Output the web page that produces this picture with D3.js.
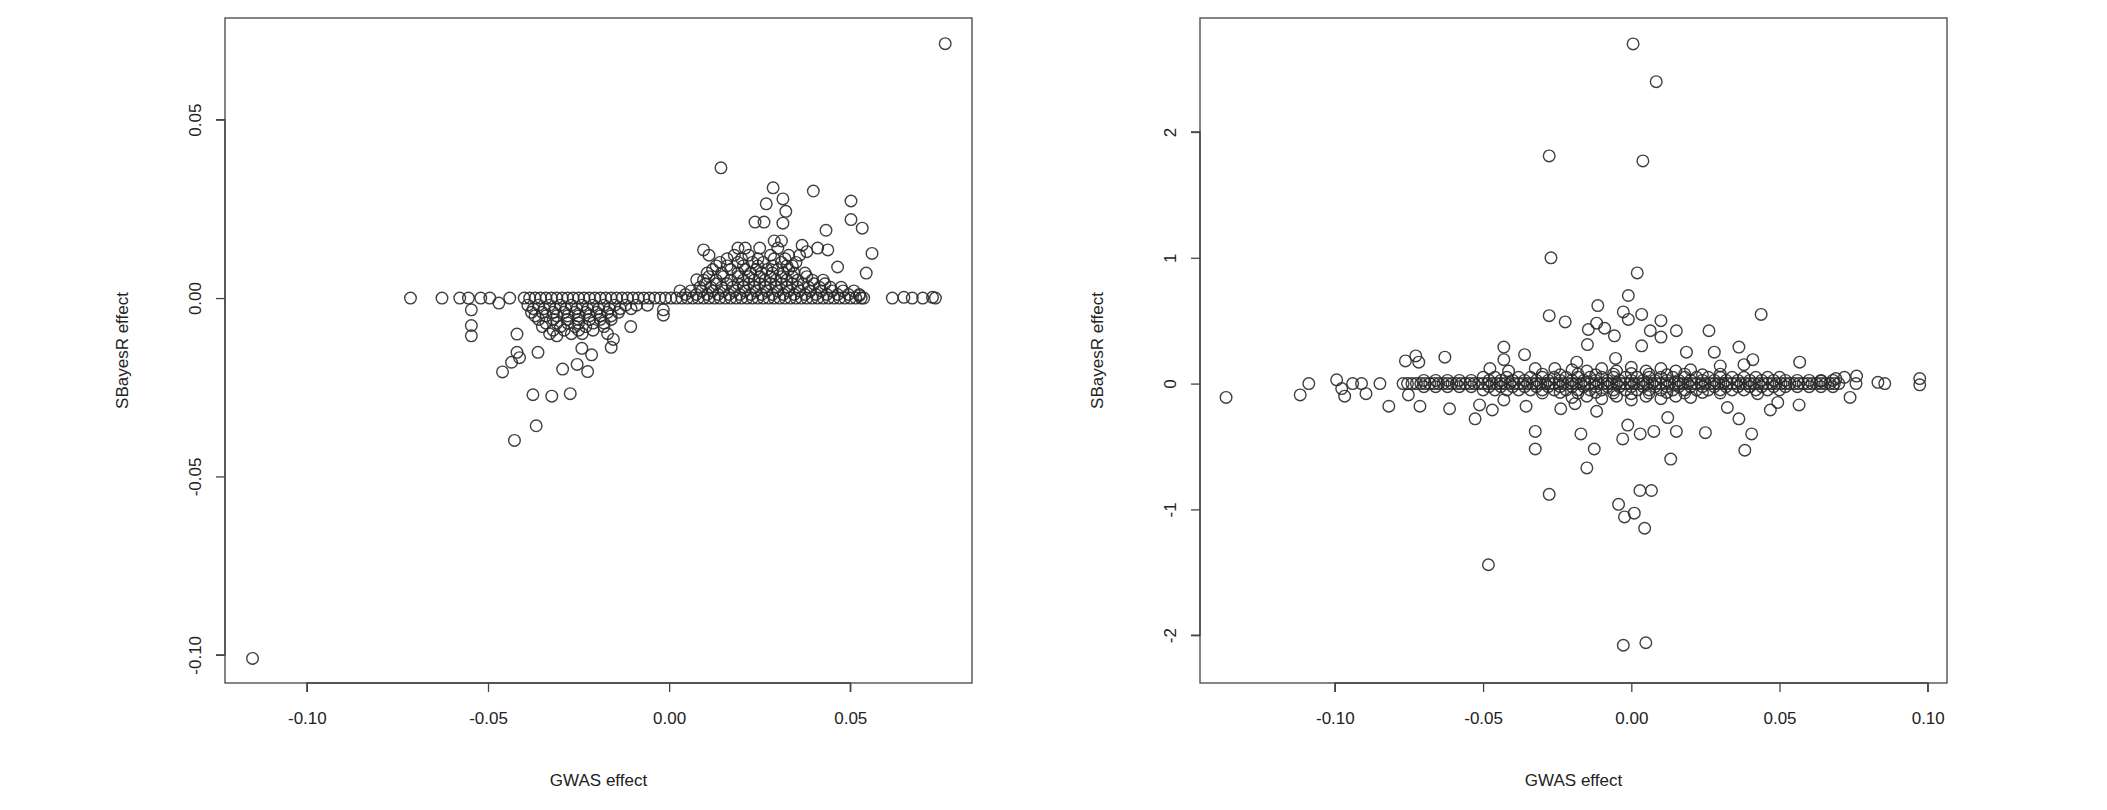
<!DOCTYPE html>
<html><head><meta charset="utf-8">
<script src="https://cdn.jsdelivr.net/npm/d3@7"></script>
<style>body{margin:0;background:#fff}svg{display:block}text{font-family:"Liberation Sans",Arial,sans-serif;fill:#222}</style>
</head><body><svg id="c" width="2107" height="810"></svg>
<script>
// ---------- Left panel data ----------
const leftGwas = [
-0.040,-0.037,-0.034,-0.031,-0.028,-0.025,-0.022,-0.019,-0.016,-0.013,-0.010,-0.007,-0.004,-0.001,0.002,0.005,0.008,0.011,0.014,0.017,0.020,0.023,0.026,0.029,0.032,0.035,0.038,0.041,0.044,0.047,0.050,0.053,
-0.039,-0.036,-0.033,-0.030,-0.027,-0.024,-0.021,-0.018,-0.015,-0.012,-0.009,-0.006,
-0.038,-0.035,-0.032,-0.029,-0.026,-0.023,-0.020,-0.017,-0.014,
-0.036,-0.032,-0.028,-0.025,-0.022,-0.019,-0.016,
-0.035,-0.030,-0.026,-0.023,-0.018,
-0.033,-0.027,-0.024,-0.017,
0.003,0.006,0.009,0.012,0.015,0.018,0.021,0.024,0.027,0.030,0.033,0.036,0.039,0.042,0.045,0.048,0.051,
0.010,0.013,0.016,0.019,0.022,0.025,0.028,0.031,0.034,0.037,0.040,0.043,
0.011,0.015,0.019,0.022,0.025,0.028,0.031,0.034,0.038,
0.012,0.017,0.021,0.024,0.027,0.030,0.033,
0.014,0.019,0.023,0.026,0.031,0.035,
0.011,0.018,0.022,0.028,0.033,0.036,
0.019,0.021,0.025,0.030,0.041,
-0.0714,-0.0627,-0.0578,-0.0554,-0.0546,-0.0546,-0.0546,-0.052,-0.0495,-0.047,-0.044,
-0.046,-0.0435,-0.042,-0.0413,-0.0376,-0.0324,-0.0273,-0.0367,-0.0427,-0.0362,-0.0294,-0.0254,-0.0225,-0.0241,-0.0214,-0.042,-0.031,-0.016,-0.0154,-0.0106,-0.0016,-0.0016,
0.0143,0.0287,0.0268,0.0314,0.0322,0.0398,0.0502,0.0502,0.0533,0.0237,0.0262,0.0314,0.0433,0.056,0.0544,0.029,0.031,0.0367,0.038,0.0438,0.0465,0.0095,0.0076,
0.0616,0.0648,0.0671,0.070,0.0727,0.0735,0.0525,0.0537,0.0762,-0.1150
];
const leftSbayes = [
0,0,0,0,0,0,0,0,0,0,0,0,0,0,0,0,0,0,0,0,0,0,0,0,0,0,0,0,0,0,0,0,
-0.002,-0.002,-0.002,-0.002,-0.002,-0.002,-0.002,-0.002,-0.002,-0.002,-0.002,-0.002,
-0.004,-0.004,-0.004,-0.004,-0.004,-0.004,-0.004,-0.004,-0.004,
-0.006,-0.006,-0.006,-0.006,-0.006,-0.006,-0.006,
-0.008,-0.008,-0.008,-0.008,-0.008,
-0.010,-0.010,-0.010,-0.010,
0.002,0.002,0.002,0.002,0.002,0.002,0.002,0.002,0.002,0.002,0.002,0.002,0.002,0.002,0.002,0.002,0.002,
0.004,0.004,0.004,0.004,0.004,0.004,0.004,0.004,0.004,0.004,0.004,0.004,
0.006,0.006,0.006,0.006,0.006,0.006,0.006,0.006,0.006,
0.008,0.008,0.008,0.008,0.008,0.008,0.008,
0.010,0.010,0.010,0.010,0.010,0.010,
0.012,0.012,0.012,0.012,0.012,0.012,
0.014,0.014,0.014,0.014,0.014,
0,0,0,0,-0.0033,-0.0077,-0.0106,0,0,-0.0014,0,
-0.0207,-0.018,-0.0152,-0.0167,-0.0271,-0.0275,-0.0268,-0.0358,-0.0399,-0.0152,-0.0199,-0.0186,-0.0206,-0.0141,-0.0159,-0.0101,-0.0106,-0.0138,-0.0116,-0.008,-0.0048,-0.0033,
0.0365,0.0309,0.0264,0.0278,0.0243,0.030,0.0272,0.022,0.0196,0.0213,0.0213,0.021,0.019,0.0125,0.007,0.016,0.016,0.0148,0.013,0.0135,0.0087,0.0135,0.0051,
0,0.0002,0,0,0.0002,0,0.0007,0,0.0713,-0.1010
];
const leftBandGwas = [
-0.0385,-0.0355,-0.0325,-0.0295,-0.0265,-0.0235,-0.0205,-0.0175,-0.0145,-0.0115,-0.0085,-0.0055,-0.0025,0.0005,0.0035,0.0065,0.0095,0.0125,0.0155,0.0185,0.0215,0.0245,0.0275,0.0305,0.0335,0.0365,0.0395,0.0425,0.0455,0.0485,0.0515,
-0.0375,-0.0345,-0.0315,-0.0285,-0.0255,-0.0225,-0.0195,-0.0165,-0.0135,-0.0105,
-0.037,-0.034,-0.031,-0.028,-0.025,-0.022,-0.019,-0.016,
-0.034,-0.031,-0.028,-0.025,-0.021,-0.018,
-0.032,-0.029,-0.025,-0.021,
0.0045,0.0075,0.0105,0.0135,0.0165,0.0195,0.0225,0.0255,0.0285,0.0315,0.0345,0.0375,0.0405,0.0435,0.0465,0.0495,0.0525,
0.0085,0.0115,0.0145,0.0175,0.0205,0.0235,0.0265,0.0295,0.0325,0.0355,0.0385,0.0415,0.0445,0.0475,
0.0095,0.013,0.017,0.0205,0.0235,0.0265,0.0295,0.0325,0.0355,0.0395,0.0425,
0.0105,0.0145,0.019,0.0225,0.0255,0.0285,0.0315,0.0345,0.0375,
0.013,0.016,0.0205,0.0245,0.0285,0.0325,0.034,
0.016,0.020,0.0245,0.029,0.032
];
const leftBandSbayes = [
0,0,0,0,0,0,0,0,0,0,0,0,0,0,0,0,0,0,0,0,0,0,0,0,0,0,0,0,0,0,0,
-0.003,-0.003,-0.003,-0.003,-0.003,-0.003,-0.003,-0.003,-0.003,-0.003,
-0.005,-0.005,-0.005,-0.005,-0.005,-0.005,-0.005,-0.005,
-0.007,-0.007,-0.007,-0.007,-0.007,-0.007,
-0.009,-0.009,-0.009,-0.009,
0.001,0.001,0.001,0.001,0.001,0.001,0.001,0.001,0.001,0.001,0.001,0.001,0.001,0.001,0.001,0.001,0.001,
0.003,0.003,0.003,0.003,0.003,0.003,0.003,0.003,0.003,0.003,0.003,0.003,0.003,0.003,
0.005,0.005,0.005,0.005,0.005,0.005,0.005,0.005,0.005,0.005,0.005,
0.007,0.007,0.007,0.007,0.007,0.007,0.007,0.007,0.007,
0.009,0.009,0.009,0.009,0.009,0.009,0.009,
0.011,0.011,0.011,0.011,0.011
];
const leftXTicks = [-0.10,-0.05,0.00,0.05];
const leftYTicks = [-0.10,-0.05,0.00,0.05];

// ---------- Right panel data ----------
const rightGwas = [
-0.077,-0.074,-0.071,-0.068,-0.065,-0.062,-0.059,-0.056,-0.053,-0.050,-0.047,-0.044,-0.041,-0.038,-0.035,-0.032,-0.029,-0.026,-0.023,-0.020,-0.017,-0.014,-0.011,-0.008,-0.005,-0.002,0.001,0.004,0.007,0.010,0.013,0.016,0.019,0.022,0.025,0.028,0.031,0.034,0.037,0.040,0.043,0.046,0.049,0.052,0.055,0.058,0.061,0.064,0.067,0.070,
-0.050,-0.046,-0.042,-0.038,-0.034,-0.030,-0.026,-0.022,-0.018,-0.014,-0.010,-0.006,-0.002,0.002,0.006,0.010,0.014,0.018,0.022,0.026,0.030,0.034,0.038,0.042,0.046,0.050,
-0.050,-0.046,-0.042,-0.038,-0.034,-0.030,-0.026,-0.022,-0.018,-0.014,-0.010,-0.006,-0.002,0.002,0.006,0.010,0.014,0.018,0.022,0.026,0.030,0.034,0.038,0.042,0.046,0.050,
-0.020,-0.015,-0.010,-0.005,0.000,0.005,0.010,0.015,0.020,
-0.020,-0.015,-0.010,-0.005,0.000,0.005,0.010,0.015,0.020,
-0.1367,-0.1117,-0.1088,-0.0994,-0.0977,-0.0967,-0.094,-0.091,-0.0895,-0.0848,-0.0818,-0.0762,-0.0752,-0.0727,-0.0717,-0.0713,-0.0629,-0.0613,-0.0527,-0.0512,-0.0482,-0.0477,-0.0469,-0.043,-0.043,-0.043,-0.0414,-0.036,-0.0355,-0.0324,-0.0324,-0.0324,
-0.0277,-0.0271,-0.0277,-0.0277,-0.0223,-0.0238,-0.0258,-0.0184,-0.019,-0.017,-0.015,-0.0148,-0.0145,-0.0125,-0.0113,-0.0117,-0.0117,-0.009,-0.0057,-0.0053,-0.0029,-0.0043,-0.0023,-0.0027,-0.0012,-0.0027,-0.001,-0.001,
0.0006,0.002,0.001,0.0029,0.0039,0.003,0.0045,0.0049,0.0035,0.0064,0.0068,0.0076,0.0084,0.010,0.010,0.0035,0.0133,0.0152,0.0152,0.0123,0.0186,0.025,0.0262,0.028,0.030,0.0324,0.0363,0.0363,0.038,0.0383,0.0406,0.041,0.0426,0.0438,0.0469,0.0494,0.0568,0.0566,
0.0738,0.0758,0.076,0.0719,0.0832,0.0855,0.0973,0.0973,0.064,0.069
];
const rightSbayes = [
0,0,0,0,0,0,0,0,0,0,0,0,0,0,0,0,0,0,0,0,0,0,0,0,0,0,0,0,0,0,0,0,0,0,0,0,0,0,0,0,0,0,0,0,0,0,0,0,0,0,
0.05,0.05,0.05,0.05,0.05,0.05,0.05,0.05,0.05,0.05,0.05,0.05,0.05,0.05,0.05,0.05,0.05,0.05,0.05,0.05,0.05,0.05,0.05,0.05,0.05,0.05,
-0.05,-0.05,-0.05,-0.05,-0.05,-0.05,-0.05,-0.05,-0.05,-0.05,-0.05,-0.05,-0.05,-0.05,-0.05,-0.05,-0.05,-0.05,-0.05,-0.05,-0.05,-0.05,-0.05,-0.05,-0.05,-0.05,
0.11,0.10,0.12,0.10,0.13,0.10,0.12,0.10,0.11,
-0.11,-0.10,-0.12,-0.10,-0.13,-0.10,-0.12,-0.10,-0.11,
-0.11,-0.09,0,0.03,-0.04,-0.10,0,0,-0.08,0,-0.18,0.18,-0.09,0.22,0.17,-0.18,0.21,-0.20,-0.28,-0.17,-1.44,0.12,-0.21,0.29,0.19,-0.13,0.10,0.23,-0.18,-0.38,-0.52,0.12,
1.81,1.00,0.54,-0.88,0.49,-0.20,0.12,0.17,-0.16,-0.40,-0.67,0.31,0.43,-0.52,0.62,0.48,-0.22,0.44,0.38,0.20,-0.44,-0.96,-1.06,-2.08,-0.33,0.57,0.70,0.51,
2.70,0.88,-1.03,-0.85,1.77,-0.40,-1.15,-2.06,0.55,0.42,-0.85,-0.38,2.40,0.50,0.37,0.30,-0.60,0.42,-0.38,-0.27,0.25,-0.39,0.42,0.25,0.14,-0.19,0.29,-0.28,0.15,-0.53,-0.40,0.19,-0.08,0.55,-0.21,-0.15,0.17,-0.17,
-0.11,0,0.06,0.05,0.01,0,0.04,-0.01,0.02,0.04
];
const rightBandGwas = [
-0.0755,-0.0725,-0.0695,-0.0665,-0.0635,-0.0605,-0.0575,-0.0545,-0.0515,-0.0485,-0.0455,-0.0425,-0.0395,-0.0365,-0.0335,-0.0305,-0.0275,-0.0245,-0.0215,-0.0185,-0.0155,-0.0125,-0.0095,-0.0065,-0.0035,-0.0005,0.0025,0.0055,0.0085,0.0115,0.0145,0.0175,0.0205,0.0235,0.0265,0.0295,0.0325,0.0355,0.0385,0.0415,0.0445,0.0475,0.0505,0.0535,0.0565,0.0595,0.0625,0.0655,0.0685,
-0.070,-0.066,-0.062,-0.058,-0.054,-0.048,-0.044,-0.040,-0.036,-0.032,-0.028,-0.024,-0.020,-0.016,-0.012,-0.008,-0.004,0.000,0.004,0.008,0.012,0.016,0.020,0.024,0.028,0.032,0.036,0.040,0.044,0.048,0.052,0.056,0.060,0.064,0.068,
-0.070,-0.066,-0.062,-0.058,-0.054,-0.048,-0.044,-0.040,-0.036,-0.032,-0.028,-0.024,-0.020,-0.016,-0.012,-0.008,-0.004,0.000,0.004,0.008,0.012,0.016,0.020,0.024,0.028,0.032,0.036,0.040,0.044,0.048,0.052,0.056,0.060,0.064,0.068,
-0.030,-0.024,-0.018,-0.012,-0.006,0.000,0.006,0.012,0.018,0.024,0.030,
-0.030,-0.024,-0.018,-0.012,-0.006,0.000,0.006,0.012,0.018,0.024,0.030
];
const rightBandSbayes = [
0,0,0,0,0,0,0,0,0,0,0,0,0,0,0,0,0,0,0,0,0,0,0,0,0,0,0,0,0,0,0,0,0,0,0,0,0,0,0,0,0,0,0,0,0,0,0,0,0,
0.025,0.025,0.025,0.025,0.025,0.025,0.025,0.025,0.025,0.025,0.025,0.025,0.025,0.025,0.025,0.025,0.025,0.025,0.025,0.025,0.025,0.025,0.025,0.025,0.025,0.025,0.025,0.025,0.025,0.025,0.025,0.025,0.025,0.025,0.025,
-0.025,-0.025,-0.025,-0.025,-0.025,-0.025,-0.025,-0.025,-0.025,-0.025,-0.025,-0.025,-0.025,-0.025,-0.025,-0.025,-0.025,-0.025,-0.025,-0.025,-0.025,-0.025,-0.025,-0.025,-0.025,-0.025,-0.025,-0.025,-0.025,-0.025,-0.025,-0.025,-0.025,-0.025,-0.025,
0.075,0.07,0.075,0.07,0.075,0.08,0.075,0.07,0.075,0.07,0.075,
-0.075,-0.07,-0.075,-0.07,-0.075,-0.08,-0.075,-0.07,-0.075,-0.07,-0.075
];
const rightXTicks = [-0.10,-0.05,0.00,0.05,0.10];
const rightYTicks = [-2,-1,0,1,2];

const svg = d3.select("#c");
function panel(box, xd, yd, xs, ys, xt, yt, xfmt, yfmt){
  const x = d3.scaleLinear().domain(xd).range([box.l, box.r]);
  const y = d3.scaleLinear().domain(yd).range([box.b, box.t]);
  const g = svg.append("g");
  g.selectAll("circle").data(xs.map((v,i)=>[v,ys[i]])).join("circle")
    .attr("cx",d=>x(d[0])).attr("cy",d=>y(d[1])).attr("r",5.8)
    .attr("fill","none").attr("stroke","#2a2a2a").attr("stroke-width",1.4).attr("stroke-opacity",0.9);
  g.append("rect").attr("x",box.l).attr("y",box.t).attr("width",box.r-box.l).attr("height",box.b-box.t)
    .attr("fill","none").attr("stroke","#444").attr("stroke-width",1.3);
  const xa = g.append("g").attr("transform",`translate(0,${box.b})`)
    .call(d3.axisBottom(x).tickValues(xt).tickSize(9).tickPadding(20).tickFormat(xfmt));
  const ya = g.append("g").attr("transform",`translate(${box.l},0)`)
    .call(d3.axisLeft(y).tickValues(yt).tickSize(9).tickPadding(8).tickFormat(yfmt));
  [xa,ya].forEach(a=>{a.selectAll("path,line").attr("stroke","#444").attr("stroke-width",1.3);
    a.selectAll("text").attr("font-size",17).attr("fill","#222").attr("font-family","Liberation Sans, Arial, sans-serif");});
  xa.select(".domain").attr("d",`M${x(xt[0])},9V0H${x(xt[xt.length-1])}V9`);
  ya.select(".domain").attr("d",`M-9,${y(yt[0])}H0V${y(yt[yt.length-1])}H-9`);
  ya.selectAll(".tick text").attr("text-anchor","middle").attr("dy",0)
    .attr("transform","translate(-28,0) rotate(-90)")
    .attr("x",0).attr("y",0).attr("dominant-baseline","middle");
  g.append("text").attr("x",(box.l+box.r)/2).attr("y",786).attr("text-anchor","middle").attr("font-size",17).text("GWAS effect");
  g.append("text").attr("transform",`translate(${box.l-97},${(box.t+box.b)/2}) rotate(-90)`).attr("text-anchor","middle").attr("font-size",17).text("SBayesR effect");
}
panel({l:225,r:972,t:18,b:683},[-0.1226,0.0836],[-0.1079,0.0785],leftGwas.concat(leftBandGwas),leftSbayes.concat(leftBandSbayes),leftXTicks,leftYTicks,d3.format(".2f"),d3.format(".2f"));
panel({l:1200,r:1947,t:18,b:683},[-0.1455,0.1065],[-2.38,2.906],rightGwas.concat(rightBandGwas),rightSbayes.concat(rightBandSbayes),rightXTicks,rightYTicks,d3.format(".2f"),d3.format("d"));
svg.selectAll("text").each(function(){const t=d3.select(this);t.text(t.text().replace(/\u2212/g,"-"));});
</script></body></html>
